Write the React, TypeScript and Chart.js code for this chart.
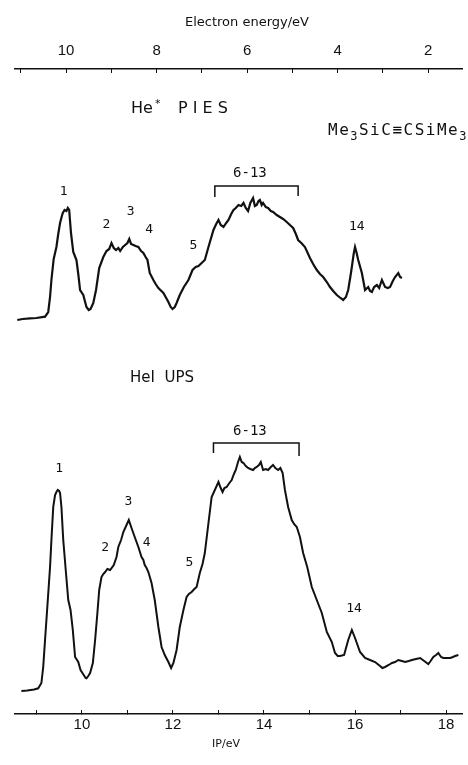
import React, { useEffect, useRef } from "react";
import { Chart, registerables } from "chart.js";

Chart.register(...registerables);

// ---------- DATA ----------
// He* Penning ionization electron spectrum (PIES): ionization potential (eV) / intensity (arb.)
const piesIP = [
  8.58, 8.7, 8.86, 9.0, 9.19, 9.26, 9.3, 9.33, 9.38, 9.44, 9.48, 9.52, 9.56, 9.58, 9.62, 9.66, 9.69, 9.72,
  9.76, 9.81, 9.88, 9.92, 9.96, 10.03, 10.1, 10.15, 10.19, 10.25, 10.31, 10.38, 10.47, 10.54, 10.6, 10.65,
  10.7, 10.75, 10.8, 10.84, 10.9, 10.95, 11.0, 11.04, 11.08, 11.13, 11.18, 11.24, 11.3, 11.35, 11.4, 11.44,
  11.49, 11.57, 11.62, 11.68, 11.79, 11.9, 11.95, 11.99, 12.04, 12.08, 12.15, 12.24, 12.34, 12.43, 12.5,
  12.56, 12.63, 12.7, 12.78, 12.89, 12.95, 13.0, 13.05, 13.11, 13.17, 13.22, 13.28, 13.33, 13.38, 13.44,
  13.5, 13.55, 13.6, 13.65, 13.7, 13.76, 13.8, 13.84, 13.88, 13.91, 13.95, 13.98, 14.04, 14.09, 14.15,
  14.2, 14.28, 14.35, 14.42, 14.5, 14.57, 14.64, 14.7, 14.75, 14.82, 14.9, 15.01, 15.08, 15.16, 15.23,
  15.3, 15.38, 15.45, 15.52, 15.6, 15.68, 15.74, 15.8, 15.85, 15.9, 15.93, 15.97, 16.0, 16.03, 16.07,
  16.15, 16.22, 16.29, 16.33, 16.37, 16.42, 16.48, 16.53, 16.59, 16.66, 16.72, 16.77, 16.83, 16.88,
  16.95, 16.99, 17.03,
];
const piesIntensity = [
  2, 3, 3.7, 4, 5.3, 10, 25, 42, 63, 75, 88, 99, 106, 109, 112, 111, 114, 112,
  89, 70, 62, 48, 32, 27, 15, 12, 13, 19, 32, 54, 65, 71, 73, 79,
  74, 72, 74, 71, 75, 77, 79, 83, 78, 77, 76, 75, 71, 69, 65, 62,
  49, 42, 38, 34, 29, 20, 15, 13, 15, 19, 27, 35, 42, 52, 55,
  56, 59, 62, 75, 92, 98, 102, 97, 95, 99, 102, 108, 112, 114, 117,
  116, 119, 114, 111, 119, 124, 116, 117, 121, 122, 117, 119, 115, 114, 111,
  110, 107, 105, 103, 100, 97, 94, 88, 82, 79, 75, 64, 58, 52, 48,
  45, 40, 35, 31, 27, 24, 22, 25, 32, 46, 55, 68, 75, 70, 62,
  49, 32, 35, 31, 30, 35, 37, 34, 42, 35, 34, 35, 41, 45,
  49, 45, 44,
];

// He I ultraviolet photoelectron spectrum (UPS): ionization potential (eV) / intensity (arb.)
const upsIP = [
  8.67, 8.8, 8.95, 9.04, 9.11, 9.15, 9.19, 9.24, 9.3, 9.33, 9.37, 9.41, 9.44, 9.47, 9.5, 9.52, 9.55, 9.59,
  9.65, 9.7, 9.75, 9.8, 9.85, 9.92, 9.97, 10.04, 10.08, 10.1, 10.14, 10.18, 10.24, 10.29, 10.34, 10.38,
  10.43, 10.47, 10.51, 10.56, 10.62, 10.7, 10.76, 10.8, 10.86, 10.91, 10.98, 11.03, 11.06, 11.09, 11.16,
  11.24, 11.31, 11.35, 11.38, 11.42, 11.46, 11.53, 11.6, 11.68, 11.75, 11.82, 11.9, 11.96, 12.01, 12.08,
  12.15, 12.23, 12.3, 12.35, 12.41, 12.47, 12.52, 12.59, 12.65, 12.7, 12.78, 12.85, 12.92, 12.96, 13.0,
  13.04, 13.09, 13.13, 13.18, 13.24, 13.29, 13.34, 13.38, 13.43, 13.47, 13.51, 13.55, 13.6, 13.65, 13.7,
  13.76, 13.8, 13.84, 13.89, 13.93, 13.98, 14.04, 14.09, 14.15, 14.2, 14.25, 14.31, 14.36, 14.41, 14.46,
  14.53, 14.61, 14.66, 14.72, 14.79, 14.86, 14.95, 15.05, 15.16, 15.27, 15.38, 15.49, 15.56, 15.62, 15.67,
  15.76, 15.85, 15.93, 16.0, 16.11, 16.22, 16.33, 16.44, 16.55, 16.6, 16.66, 16.74, 16.81, 16.88, 16.95,
  17.03, 17.1, 17.18, 17.25, 17.34, 17.43, 17.52, 17.61, 17.66, 17.72, 17.78, 17.83, 17.89, 17.94, 18.02,
  18.09, 18.15, 18.2, 18.27,
];
const upsIntensity = [
  1, 1.5, 2.5, 3.7, 9, 25, 52, 85, 125, 152, 185, 197, 200, 202, 201, 199, 185, 152,
  119, 92, 82, 62, 35, 30, 22, 17, 14, 13.7, 16, 19, 29, 52, 79, 102,
  115, 118, 120, 123, 122, 127, 135, 145, 152, 160, 167, 172, 168, 164, 155,
  145, 135, 132, 127, 124, 120, 109, 92, 65, 45, 37, 30, 24, 29, 42,
  65, 82, 95, 98, 100, 103, 105, 119, 128, 139, 169, 195, 202, 206, 210,
  205, 200, 204, 205, 209, 212, 218, 222, 230, 235, 230, 229, 226, 224, 223,
  222, 224, 225, 227, 230, 222, 223, 222, 225, 227, 224, 222, 224, 219, 202,
  185, 172, 168, 165, 155, 139, 125, 105, 92, 79, 60, 50, 39, 36, 36,
  37, 52, 62, 54, 40, 34, 32, 30, 26, 24, 25, 27, 29, 30, 32,
  31, 30, 31, 32, 33, 34, 31, 28, 31, 35, 37, 39, 35, 34, 34,
  34, 35, 36, 37,
];

// Axis labels
const ipTickLabels = ["10", "12", "14", "16", "18"];
const eeTickLabels = ["10", "8", "6", "4", "2"];
const ipAxisTitle = "IP/eV";
const eeAxisTitle = "Electron energy/eV";

// Band assignments (label, IP position, height above baseline)
const piesBandLabels = ["1", "2", "3", "4", "5", "14", "6-13"];
const piesBandIP = [9.6, 10.54, 11.07, 11.48, 12.45, 16.04, 13.69];
const piesBandHeight = [130, 97, 110, 92, 76, 95, 149];
const upsBandLabels = ["1", "2", "3", "4", "5", "14", "6-13"];
const upsBandIP = [9.5, 10.51, 11.02, 11.42, 12.36, 15.98, 13.69];
const upsBandHeight = [223, 144, 190, 149, 129, 83, 261];

// Bracket for bands 6-13: [ipStart, ipEnd, top, leftEnd, rightEnd]
const piesBracket = [12.92, 14.75, 136, 125, 126];
const upsBracket = [12.89, 14.77, 249, 239, 236];

// ---------- CHART ----------
const INK = "#111";

const annotations = {
  id: "spectrumAnnotations",
  afterDraw(chart: any) {
    const ctx: CanvasRenderingContext2D = chart.ctx;
    const x = chart.scales.x;
    const yTop = chart.scales.yTop;
    const yBot = chart.scales.yBot;
    ctx.save();
    ctx.fillStyle = INK;
    ctx.strokeStyle = INK;
    ctx.textAlign = "center";
    ctx.textBaseline = "middle";

    const drawBands = (labels: string[], ips: number[], hs: number[], ys: any) => {
      labels.forEach((t, i) => {
        ctx.font = t.length > 2 ? '14px "DejaVu Sans Mono"' : '13px "DejaVu Sans Mono"';
        ctx.fillText(t, x.getPixelForValue(ips[i]), ys.getPixelForValue(hs[i]));
      });
    };
    drawBands(piesBandLabels, piesBandIP, piesBandHeight, yTop);
    drawBands(upsBandLabels, upsBandIP, upsBandHeight, yBot);

    const drawBracket = (b: number[], ys: any) => {
      const x1 = x.getPixelForValue(b[0]);
      const x2 = x.getPixelForValue(b[1]);
      ctx.lineWidth = 1.5;
      ctx.beginPath();
      ctx.moveTo(x1, ys.getPixelForValue(b[3]));
      ctx.lineTo(x1, ys.getPixelForValue(b[2]));
      ctx.lineTo(x2, ys.getPixelForValue(b[2]));
      ctx.lineTo(x2, ys.getPixelForValue(b[4]));
      ctx.stroke();
    };
    drawBracket(piesBracket, yTop);
    drawBracket(upsBracket, yBot);

    // axis titles
    ctx.font = '13px "DejaVu Sans"';
    ctx.fillText(eeAxisTitle, 247, 23);
    ctx.font = '11px "DejaVu Sans"';
    ctx.fillText(ipAxisTitle, 226, 744);

    // spectrum titles
    ctx.textAlign = "left";
    ctx.font = '16px "DejaVu Sans"';
    ctx.fillText("He", 131, 109);
    ctx.font = '11px "DejaVu Sans"';
    ctx.fillText("*", 155, 104);
    ctx.font = '16px "DejaVu Sans"';
    ctx.fillText("P I E S", 178, 109);
    ctx.font = '15px "DejaVu Sans"';
    ctx.fillText("HeI  UPS", 130, 378);

    // molecule formula
    const parts: [string, boolean][] = [
      ["Me", false],
      ["3", true],
      ["SiC\u2261CSiMe", false],
      ["3", true],
    ];
    let px = 328;
    (ctx as any).letterSpacing = "1.5px";
    for (const [s, sub] of parts) {
      ctx.font = sub ? '12px "DejaVu Sans Mono"' : '16px "DejaVu Sans Mono"';
      ctx.fillText(s, px, sub ? 137 : 131);
      px += ctx.measureText(s).width;
    }
    ctx.restore();
  },
};

export default function App() {
  const ref = useRef<HTMLCanvasElement>(null);

  useEffect(() => {
    if (!ref.current) return;
    const piesData = piesIP.map((ip, i) => ({ x: ip, y: piesIntensity[i] }));
    const upsData = upsIP.map((ip, i) => ({ x: ip, y: upsIntensity[i] }));

    const chart = new Chart(ref.current, {
      type: "line",
      data: {
        datasets: [
          {
            label: "He* PIES",
            data: piesData,
            xAxisID: "x",
            yAxisID: "yTop",
            borderColor: INK,
            borderWidth: 2.2,
            pointRadius: 0,
            tension: 0,
          },
          {
            label: "HeI UPS",
            data: upsData,
            xAxisID: "x",
            yAxisID: "yBot",
            borderColor: INK,
            borderWidth: 2,
            pointRadius: 0,
            tension: 0,
          },
        ],
      },
      options: {
        responsive: false,
        animation: false,
        devicePixelRatio: 1,
        layout: { padding: { left: 15, right: 6, top: 0, bottom: 0 } },
        plugins: { legend: { display: false }, tooltip: { enabled: false } },
        scales: {
          x: {
            type: "linear",
            position: "bottom",
            min: 8.53,
            max: 18.35,
            afterFit: (s: any) => {
              s.height = 51;
            },
            ticks: {
              stepSize: 1,
              includeBounds: false,
              maxRotation: 0,
              autoSkip: false,
              padding: 6,
              color: INK,
              font: { family: '"Liberation Sans"', size: 15 },
              callback: (v: any) => {
                const s = String(v);
                return ipTickLabels.includes(s) ? s : "";
              },
            },
            grid: { drawOnChartArea: false, drawTicks: true, tickLength: -4, color: INK, lineWidth: 1 },
            border: { display: true, color: INK, width: 1.5 },
            title: { display: false, text: ipAxisTitle },
          },
          x2: {
            type: "linear",
            position: "top",
            reverse: true,
            min: 1.25,
            max: 11.13,
            afterFit: (s: any) => {
              s.height = 69;
            },
            ticks: {
              stepSize: 1,
              includeBounds: false,
              maxRotation: 0,
              autoSkip: false,
              padding: 13,
              color: INK,
              font: { family: '"Liberation Sans"', size: 15 },
              callback: (v: any) => {
                const s = String(v);
                return eeTickLabels.includes(s) ? s : "";
              },
            },
            grid: { drawOnChartArea: false, drawTicks: true, tickLength: -4, color: INK, lineWidth: 1 },
            border: { display: true, color: INK, width: 1.5 },
            title: { display: false, text: eeAxisTitle },
          },
          yTop: {
            type: "linear",
            display: false,
            min: -392,
            max: 253,
          },
          yBot: {
            type: "linear",
            display: false,
            min: -22,
            max: 623,
          },
        },
      },
      plugins: [annotations],
    });
    return () => chart.destroy();
  }, []);

  return (
    <div style={{ position: "absolute", left: 0, top: 0, width: 468, height: 765, background: "#fff" }}>
      <canvas ref={ref} width={468} height={765} style={{ display: "block", width: 468, height: 765 }} />
    </div>
  );
}
